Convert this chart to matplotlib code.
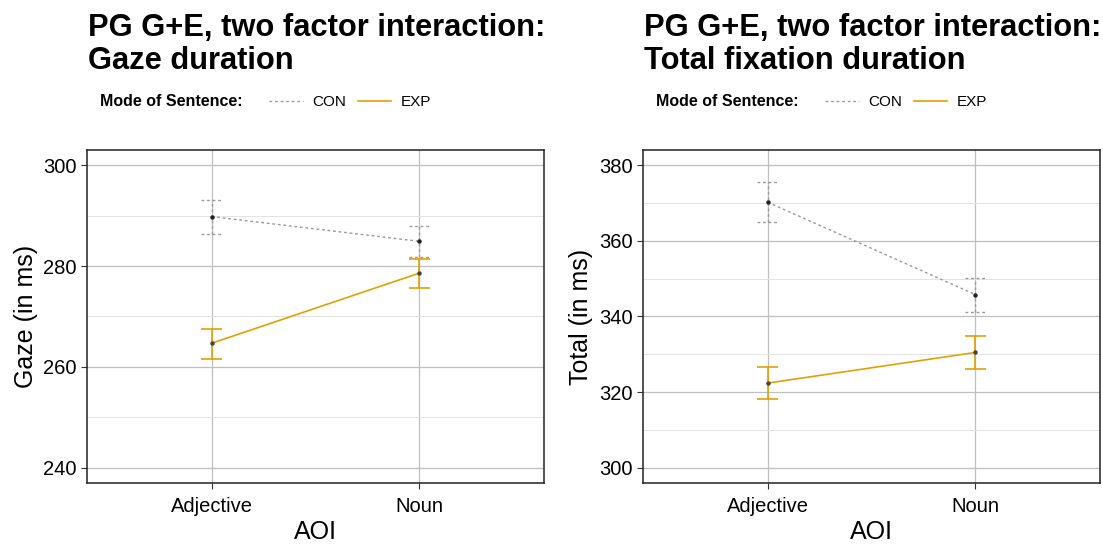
import numpy as np
import matplotlib
matplotlib.use("Agg")
import matplotlib.pyplot as plt
from matplotlib.ticker import MultipleLocator

plt.rcParams['font.family'] = ['Liberation Sans', 'DejaVu Sans']

# Means and error-bar bounds per AOI and sentence mode
aoi = ['Adjective', 'Noun']

gaze_con = [289.8, 284.9]
gaze_con_lo = [286.3, 281.8]
gaze_con_hi = [293.1, 288.0]
gaze_exp = [264.7, 278.6]
gaze_exp_lo = [261.6, 275.7]
gaze_exp_hi = [267.6, 281.4]

total_con = [370.2, 345.8]
total_con_lo = [364.9, 341.3]
total_con_hi = [375.6, 350.2]
total_exp = [322.4, 330.5]
total_exp_lo = [318.1, 326.2]
total_exp_hi = [326.7, 334.9]

CON_COL = '#9a9a9a'
EXP_COL = '#E69F00'
DOT = (0, (2.0, 2.0))

fig = plt.figure(figsize=(11.03, 5.44), dpi=100)
W, H = 1103, 544


def panel(left, con, con_lo, con_hi, exp, exp_lo, exp_hi, ylim, yticks, ylabel, title):
    ax = fig.add_axes([left / W, (H - 483) / H, 457 / W, 333 / H])
    x = np.arange(1, len(aoi) + 1)
    cap = 0.05

    ax.plot(x, con, color=CON_COL, ls=DOT, lw=1.0, label='CON', zorder=3)
    ax.vlines(x, con_lo, con_hi, color=CON_COL, ls=DOT, lw=1.0, zorder=3)
    ax.hlines(con_lo, x - cap, x + cap, color=CON_COL, ls=DOT, lw=1.0, zorder=3)
    ax.hlines(con_hi, x - cap, x + cap, color=CON_COL, ls=DOT, lw=1.0, zorder=3)

    ax.plot(x, exp, color=EXP_COL, lw=1.2, label='EXP', zorder=3)
    ax.vlines(x, exp_lo, exp_hi, color=EXP_COL, lw=1.2, zorder=3)
    ax.hlines(exp_lo, x - cap, x + cap, color=EXP_COL, lw=1.2, zorder=3)
    ax.hlines(exp_hi, x - cap, x + cap, color=EXP_COL, lw=1.2, zorder=3)

    ax.plot(x, con, 'o', ms=2.2, color='#222222', zorder=4)
    ax.plot(x, exp, 'o', ms=2.2, color='#444444', zorder=4)

    ax.set_xlim(0.4, 2.6)
    ax.set_xticks(x)
    ax.set_xticklabels(aoi)
    ax.set_ylim(*ylim)
    ax.set_yticks(yticks)
    ax.yaxis.set_minor_locator(MultipleLocator(10))
    ax.grid(which='major', color='#bfbfbf', lw=0.9, zorder=0)
    ax.grid(which='minor', axis='y', color='#e3e3e3', lw=0.7, zorder=0)
    ax.tick_params(which='major', labelsize=14.5, length=4, color='#333333', width=0.8)
    ax.tick_params(axis='x', pad=6)
    ax.tick_params(which='minor', length=0)
    for s in ax.spines.values():
        s.set_color('#222222')
        s.set_linewidth(1.1)
    ax.set_xlabel('AOI', fontsize=18, labelpad=3)
    ax.set_ylabel(ylabel, fontsize=18, labelpad=4)

    fig.text((left + 1) / W, 1 - 13 / H, title, fontsize=22.2, fontweight='bold',
             va='top', ha='left', linespacing=1.12)
    fig.text((left + 13) / W, 1 - 102 / H, 'Mode of Sentence:', fontsize=11.5,
             fontweight='bold', va='center', ha='left')
    ax.legend(loc='center left', bbox_to_anchor=((left + 182) / W, 1 - 102 / H),
              bbox_transform=fig.transFigure, ncol=2, frameon=False, fontsize=11,
              handlelength=2.2, handletextpad=0.6, columnspacing=0.8,
              borderpad=0, borderaxespad=0)
    return ax


panel(87, gaze_con, gaze_con_lo, gaze_con_hi, gaze_exp, gaze_exp_lo, gaze_exp_hi,
      (237, 303), [240, 260, 280, 300], 'Gaze (in ms)',
      'PG G+E, two factor interaction:\nGaze duration')
panel(643, total_con, total_con_lo, total_con_hi, total_exp, total_exp_lo, total_exp_hi,
      (296, 384), [300, 320, 340, 360, 380], 'Total (in ms)',
      'PG G+E, two factor interaction:\nTotal fixation duration')

fig.savefig('out.png', dpi=100)
